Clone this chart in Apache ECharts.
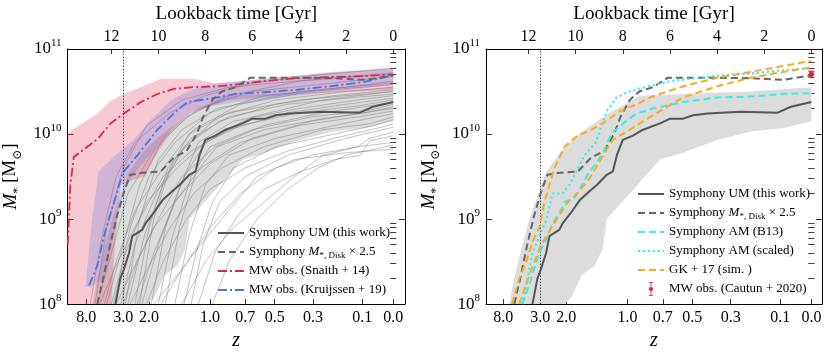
<!DOCTYPE html>
<html>
<head>
<meta charset="utf-8">
<script src="https://cdn.jsdelivr.net/npm/echarts@6/dist/echarts.min.js"></script>
<style>
html,body{margin:0;padding:0;background:#fff;}
#main{width:830px;height:356px;}
</style>
</head>
<body>
<div id="main"></div>
<script>
// all curves: [lookback time (Gyr), log10(M* / Msun)]
var umMedian = [[11.83,8.0],[11.62,8.3],[11.46,8.42],[11.25,8.6],[11.11,8.8],[10.68,8.875],[10.55,8.95],[10.13,9.1],[9.83,9.22],[9.4,9.33],[9.1,9.4],[8.68,9.52],[8.42,9.56],[8.25,9.75],[8.0,9.93],[7.57,9.98],[7.14,10.05],[6.42,10.125],[5.99,10.18],[5.44,10.18],[5.01,10.22],[4.41,10.24],[3.0,10.26],[1.43,10.25],[0.87,10.32],[0,10.375]];
var umBandUpper = [[12.81,8.0],[12.6,8.3],[12.3,8.65],[11.96,9.0],[11.24,9.56],[10.55,9.82],[9.62,10.05],[8.55,10.25],[7.27,10.45],[4.71,10.48],[2.58,10.5],[0,10.55]];
var umBandLower = [[10.47,8.0],[10.17,8.08],[9.74,8.34],[9.19,8.45],[8.85,8.65],[8.68,9.0],[7.7,9.3],[7.06,9.5],[6.42,9.7],[5.44,9.78],[3.99,9.93],[2.58,10.03],[1.17,10.07],[0,10.15]];
var diskX25 = [[12.6,8.0],[12.35,8.3],[12.05,8.7],[11.75,9.05],[11.45,9.33],[11.2,9.52],[10.75,9.54],[9.9,9.56],[9.35,9.72],[8.8,9.8],[8.35,10.01],[8.1,10.2],[7.7,10.4],[7.3,10.5],[6.72,10.55],[6.1,10.66],[4.0,10.66],[2.5,10.655],[1.2,10.636],[0,10.69]];
var snaithLine = [[13.86,8.7],[13.75,9.4],[13.6,9.73],[12.59,9.94],[12.03,10.125],[11.47,10.24],[10.75,10.375],[10.04,10.47],[9.35,10.53],[8.5,10.55],[7.48,10.56],[6.72,10.58],[5.39,10.625],[4.08,10.655],[2.68,10.67],[1.28,10.68],[0,10.70]];
var snaithUpper = [[13.86,10.0],[13.67,10.05],[12.59,10.24],[12.03,10.39],[11.47,10.47],[10.75,10.55],[9.9,10.65],[8.5,10.65],[7.65,10.6],[6.72,10.61],[3.97,10.69],[2.56,10.73],[0,10.76]];
var snaithLower = [[13.86,8.0],[12.0,8.0],[11.9,8.5],[11.75,9.0],[11.6,9.4],[11.2,9.45],[10.6,9.5],[10.0,9.8],[9.4,10.05],[8.6,10.25],[7.0,10.4],[4.0,10.47],[0,10.52]];
var kruijLine = [[12.95,8.22],[12.59,8.46],[12.32,8.8],[12.03,9.07],[11.74,9.33],[11.53,9.54],[10.89,9.75],[10.04,10.05],[9.35,10.24],[8.77,10.375],[7.92,10.41],[6.72,10.47],[5.53,10.49],[4.09,10.52],[2.69,10.56],[1.28,10.61],[0,10.69]];
var kruijUpper = [[13.1,8.2],[13.03,8.42],[12.82,9.0],[12.55,9.56],[11.83,9.75],[11.06,9.93],[10.34,10.16],[9.49,10.39],[8.77,10.5],[7.92,10.58],[6.94,10.61],[3.5,10.7],[0,10.78]];
var kruijLower = [[12.9,8.2],[12.34,8.3],[12.18,8.42],[11.91,8.8],[11.5,9.3],[11.0,9.55],[9.9,9.9],[9.35,10.09],[8.63,10.24],[7.92,10.32],[6.72,10.375],[2.69,10.49],[0,10.58]];
var amB13 = [[12.26,8.0],[11.96,8.23],[11.75,8.42],[11.54,8.6],[11.24,8.76],[10.98,8.95],[10.68,9.07],[10.47,9.2],[10.04,9.25],[9.49,9.52],[8.89,9.75],[8.46,10.01],[8.12,10.09],[7.83,10.16],[7.4,10.24],[6.72,10.3],[5.44,10.375],[4.0,10.43],[2.58,10.44],[1.17,10.47],[0,10.48]];
var amScaled = [[12.26,8.0],[12.09,8.23],[11.96,8.42],[11.83,8.6],[11.54,8.8],[11.24,8.99],[10.98,9.3],[10.55,9.3],[10.26,9.4],[10.04,9.52],[9.62,9.75],[9.15,9.9],[8.68,10.27],[8.25,10.43],[7.83,10.49],[7.14,10.545],[5.99,10.62],[4.0,10.685],[2.58,10.71],[1.17,10.75],[0,10.77]];
var gk17a = [[12.69,8.0],[12.39,8.3],[12.09,8.5],[11.83,8.73],[11.54,8.9],[11.32,9.2],[10.9,9.6],[10.47,9.85],[9.92,9.98],[9.4,10.04],[8.85,10.125],[8.12,10.27],[7.4,10.35],[6.84,10.43],[5.44,10.56],[4.0,10.66],[2.58,10.73],[1.17,10.8],[0,10.86]];
var gk17b = [[12.39,8.0],[11.96,8.34],[11.54,8.65],[11.24,8.8],[10.81,8.99],[10.38,9.18],[9.83,9.33],[9.4,9.48],[8.76,9.78],[8.42,9.93],[7.7,10.05],[6.84,10.2],[5.44,10.43],[4.0,10.56],[2.58,10.66],[1.17,10.73],[0,10.785]];
// Cautun+2020: lookback, mass and error in 1e10 Msun
var cautunT = [0];
var cautunMass = [5.04];
var cautunErr = [0.43];
// individual Symphony UM histories (thin grey lines, left panel)
var thinTracks = [
  [[12.9,8.0],[12.4,8.8],[11.8,9.5],[11.0,9.9],[9.5,10.25],[8.0,10.45],[6.0,10.6],[3.0,10.7],[0,10.77]],
  [[12.6,8.0],[12.0,8.6],[11.3,9.3],[10.2,9.8],[8.8,10.2],[7.0,10.45],[4.0,10.62],[0,10.72]],
  [[12.2,8.0],[11.5,8.7],[10.8,9.4],[9.8,9.95],[8.3,10.3],[6.0,10.5],[2.5,10.6],[0,10.68]],
  [[11.9,8.0],[11.2,8.9],[10.4,9.5],[9.3,9.9],[7.8,10.25],[5.5,10.45],[2.0,10.55],[0,10.62]],
  [[12.3,8.0],[11.8,8.5],[11.0,9.1],[9.8,9.6],[8.5,10.05],[6.5,10.35],[3.5,10.5],[0,10.58]],
  [[11.6,8.0],[11.0,8.7],[10.0,9.35],[9.0,9.8],[7.5,10.2],[5.0,10.4],[2.0,10.5],[0,10.55]],
  [[11.3,8.0],[10.6,8.8],[9.8,9.4],[8.9,9.85],[7.4,10.15],[5.0,10.35],[2.5,10.45],[0,10.52]],
  [[12.0,8.0],[11.4,8.6],[10.5,9.2],[9.2,9.6],[7.8,9.95],[6.0,10.2],[3.0,10.4],[0,10.5]],
  [[11.0,8.0],[10.4,8.9],[9.6,9.6],[8.6,9.95],[7.0,10.2],[4.5,10.35],[2.0,10.42],[0,10.47]],
  [[10.7,8.0],[10.0,8.7],[9.2,9.3],[8.3,9.9],[6.8,10.15],[4.0,10.3],[1.5,10.4],[0,10.45]],
  [[12.5,8.0],[11.9,8.4],[11.0,8.9],[9.8,9.5],[8.6,9.8],[7.0,10.05],[4.5,10.25],[2.0,10.35],[0,10.42]],
  [[10.3,8.0],[9.7,8.9],[8.9,9.5],[8.0,9.9],[6.5,10.1],[4.0,10.25],[1.5,10.33],[0,10.4]],
  [[11.5,8.0],[10.9,8.5],[10.0,9.0],[9.0,9.5],[7.6,9.85],[5.5,10.1],[3.0,10.25],[0,10.37]],
  [[10.0,8.0],[9.4,8.8],[8.6,9.5],[7.8,9.85],[6.0,10.05],[3.5,10.2],[1.0,10.28],[0,10.35]],
  [[11.8,8.0],[11.1,8.4],[10.2,8.9],[9.0,9.3],[7.8,9.65],[6.0,9.95],[3.5,10.15],[1.2,10.25],[0,10.32]],
  [[9.7,8.0],[9.1,8.9],[8.4,9.55],[7.5,9.85],[5.5,10.05],[3.0,10.18],[0,10.3]],
  [[10.9,8.0],[10.2,8.6],[9.3,9.2],[8.2,9.6],[6.5,9.9],[4.0,10.1],[1.5,10.2],[0,10.27]],
  [[9.3,8.0],[8.7,8.8],[8.0,9.4],[7.0,9.75],[5.0,9.95],[2.5,10.1],[0,10.24]],
  [[11.2,8.0],[10.5,8.4],[9.5,8.9],[8.5,9.3],[7.3,9.6],[5.5,9.85],[3.0,10.05],[1.0,10.12],[0,10.2]],
  [[8.9,8.0],[8.4,8.6],[7.7,9.2],[6.8,9.6],[5.0,9.85],[2.5,10.0],[0.8,10.1],[0,10.17]],
  [[10.5,8.0],[9.8,8.5],[8.8,9.0],[7.8,9.35],[6.3,9.6],[4.5,9.8],[2.5,9.95],[0.5,10.08],[0,10.12]],
  [[8.6,8.0],[8.1,8.7],[7.4,9.2],[6.3,9.5],[4.5,9.75],[2.0,9.95],[0,10.08]],
  [[9.9,8.0],[9.0,8.4],[7.8,8.9],[6.5,9.3],[5.0,9.6],[3.5,9.75],[1.5,9.85],[1.0,9.95],[0,10.02]],
  [[8.3,8.0],[7.6,8.6],[6.6,9.05],[5.5,9.35],[4.0,9.55],[2.5,9.7],[1.4,9.75],[1.0,9.92],[0,9.98]],
  [[9.0,8.0],[8.0,8.5],[6.8,8.9],[5.5,9.2],[4.2,9.5],[3.0,9.75],[1.5,9.85],[0,9.9]],
  [[7.7,8.0],[7.0,8.5],[5.8,9.0],[4.5,9.35],[3.2,9.6],[2.0,9.75],[0,9.87]],
  [[10.2,8.0],[9.3,8.3],[8.2,8.7],[7.0,9.1],[5.8,9.5],[4.2,9.7],[2.0,9.78],[0,9.82]],
  [[12.7,8.0],[12.2,8.9],[11.5,9.6],[10.5,10.1],[9.0,10.4],[7.0,10.55],[3.0,10.65],[0,10.7]],
  [[11.4,8.0],[10.8,9.0],[10.0,9.7],[9.0,10.05],[7.5,10.3],[4.0,10.5],[0,10.6]],
  [[10.8,8.0],[10.2,9.0],[9.5,9.6],[8.7,10.0],[7.0,10.25],[4.0,10.4],[0,10.5]]
];
// axis ticks
var topTicks = [0, 2, 4, 6, 8, 10, 12];
var zTickPos = [13.07, 11.5, 10.4, 7.8, 6.3, 5.05, 3.42, 1.32, 0];
var zTickLabels = ['8.0', '3.0', '2.0', '1.0', '0.7', '0.5', '0.3', '0.1', '0.0'];
var zThree = 11.5;

var FONT = "'Liberation Serif', 'DejaVu Serif', serif";
var chart = echarts.init(document.getElementById('main'), null, {renderer: 'canvas'});

function toXY(arr) {
  return arr.map(function (p) { return [p[0], Math.pow(10, p[1])]; });
}

// log-space positions of 2..9 x 10^n minor ticks
var minorLog = [];
for (var e = 8; e < 11; e++) {
  for (var k = 2; k <= 9; k++) minorLog.push(Math.log10(k) + e);
}

var NAMES = {
  um: 'Symphony UM (this work)',
  disk: 'Symphony Mdisk',
  snaith: 'MW obs. (Snaith + 14)',
  kruij: 'MW obs. (Kruijssen + 19)',
  b13: 'Symphony AM (B13)',
  scaled: 'Symphony AM (scaled)',
  gk: 'GK + 17 (sim. )',
  cautun: 'MW obs. (Cautun + 2020)'
};

var tickStyle = {color: '#000', width: 0.8};
var lineAxis = {show: true, onZero: false, lineStyle: {color: '#000', width: 1}};

function xAxesFor(grid, tmin, tmax) {
  return [{
    type: 'value', gridIndex: grid, position: 'bottom', min: tmin, max: tmax, inverse: true,
    axisLine: lineAxis,
    axisTick: {show: true, inside: true, length: 5, customValues: zTickPos, lineStyle: tickStyle},
    axisLabel: {
      customValues: zTickPos, margin: 6, fontSize: 16, fontFamily: FONT, color: '#000',
      formatter: function (v) {
        for (var i = 0; i < zTickPos.length; i++) {
          if (Math.abs(zTickPos[i] - v) < 1e-6) return zTickLabels[i];
        }
        return '';
      }
    },
    splitLine: {show: false},
    name: 'z', nameLocation: 'middle', nameGap: 24,
    nameTextStyle: {fontFamily: FONT, fontSize: 20, fontStyle: 'italic', color: '#000'}
  }, {
    type: 'value', gridIndex: grid, position: 'top', min: tmin, max: tmax, inverse: true,
    axisLine: lineAxis,
    axisTick: {show: true, inside: true, length: 5, customValues: topTicks, lineStyle: tickStyle},
    axisLabel: {customValues: topTicks, margin: 4, fontSize: 16, fontFamily: FONT, color: '#000'},
    splitLine: {show: false},
    name: 'Lookback time [Gyr]', nameLocation: 'middle', nameGap: 22,
    nameTextStyle: {fontFamily: FONT, fontSize: 19, color: '#000'}
  }];
}

function yAxesFor(grid) {
  var main = {
    type: 'log', logBase: 10, gridIndex: grid, position: 'left', min: 1e8, max: 1e11,
    axisLine: lineAxis,
    axisTick: {show: true, inside: true, length: 6, lineStyle: tickStyle},
    axisLabel: {
      margin: 6, padding: [0, 0, 3, 0],
      formatter: function (v) { return '{b|10}{s|' + Math.round(Math.log10(v)) + '}'; },
      rich: {
        b: {fontSize: 17, fontFamily: FONT, color: '#000', lineHeight: 20, verticalAlign: 'bottom'},
        s: {fontSize: 11, fontFamily: FONT, color: '#000', lineHeight: 20, verticalAlign: 'top'}
      }
    },
    splitLine: {show: false},
    name: '{i|M}{sb|*} [M{sb|\u2299}]', nameLocation: 'middle', nameGap: 44, nameRotate: 90,
    nameTextStyle: {
      fontFamily: FONT, fontSize: 19, color: '#000',
      rich: {
        i: {fontFamily: FONT, fontSize: 19, fontStyle: 'italic', color: '#000', lineHeight: 26},
        sb: {fontFamily: FONT, fontSize: 12, color: '#000', verticalAlign: 'bottom', lineHeight: 14}
      }
    }
  };
  var rightMain = {
    type: 'log', logBase: 10, gridIndex: grid, position: 'right', min: 1e8, max: 1e11,
    axisLine: lineAxis,
    axisTick: {show: true, inside: true, length: 6, lineStyle: tickStyle},
    axisLabel: {show: false}, splitLine: {show: false}
  };
  function minor(side) {
    return {
      type: 'value', gridIndex: grid, position: side, min: 8, max: 11,
      axisLine: {show: false},
      axisTick: {show: true, inside: true, length: 3, customValues: minorLog, lineStyle: tickStyle},
      axisLabel: {show: false}, splitLine: {show: false}
    };
  }
  return [main, rightMain, minor('left'), minor('right')];
}

function bandSeries(upper, lower, fill, xi, yi, z) {
  return {
    type: 'custom', xAxisIndex: xi, yAxisIndex: yi, silent: true, z: z,
    data: [[5, 1e9]], encode: {x: 0, y: 1},
    renderItem: function (params, api) {
      var pts = [];
      upper.forEach(function (p) { pts.push(api.coord([p[0], Math.pow(10, p[1])])); });
      lower.slice().reverse().forEach(function (p) { pts.push(api.coord([p[0], Math.pow(10, p[1])])); });
      return {type: 'polygon', shape: {points: pts}, style: {fill: fill}};
    }
  };
}

function line(name, data, xi, yi, color, width, type, z) {
  return {
    type: 'line', name: name, data: toXY(data), xAxisIndex: xi, yAxisIndex: yi,
    symbol: 'none', showSymbol: false, silent: true, z: z || 3,
    itemStyle: {color: color},
    lineStyle: {color: color, width: width, type: type}
  };
}

var dashDot = [9, 3, 2, 3];
var dash = [7, 4];
var zLine = {
  silent: true, symbol: ['none', 'none'], label: {show: false},
  lineStyle: {type: [1.5, 1.5], color: '#222', width: 0.8},
  data: [{xAxis: zThree}]
};

var series = [];
// left panel
series.push(bandSeries(umBandUpper, umBandLower, '#dcdcdc', 0, 0, 1));
thinTracks.forEach(function (tr) {
  series.push({
    type: 'line', data: toXY(tr), xAxisIndex: 0, yAxisIndex: 0, symbol: 'none', silent: true, z: 2,
    lineStyle: {color: 'rgba(120,120,120,0.5)', width: 0.9}
  });
});
series.push(bandSeries(snaithUpper, snaithLower, 'rgba(230,40,80,0.25)', 0, 0, 3));
series.push(bandSeries(kruijUpper, kruijLower, 'rgba(65,105,225,0.22)', 0, 0, 3));
series.push(line(NAMES.snaith, snaithLine, 0, 0, '#e0254f', 1.8, dashDot, 4));
series.push(line(NAMES.kruij, kruijLine, 0, 0, '#4a74e0', 1.8, dashDot, 4));
series.push(line(NAMES.disk, diskX25, 0, 0, '#666666', 2, dash, 5));
var umLeft = line(NAMES.um, umMedian, 0, 0, '#555555', 2, 'solid', 5);
umLeft.markLine = zLine;
series.push(umLeft);

// right panel
series.push(bandSeries(umBandUpper, umBandLower, '#dcdcdc', 2, 4, 1));
var umRight = line(NAMES.um, umMedian, 2, 4, '#555555', 2, 'solid', 5);
umRight.markLine = zLine;
series.push(umRight);
series.push(line(NAMES.disk, diskX25, 2, 4, '#666666', 2, dash, 5));
series.push(line(NAMES.b13, amB13, 2, 4, '#2ef0f0', 2, dash, 5));
series.push(line(NAMES.scaled, amScaled, 2, 4, '#2ef0f0', 2.2, [2, 3], 5));
series.push(line(NAMES.gk, gk17a, 2, 4, '#ffa81e', 2, dash, 5));
series.push(line('gk17b', gk17b, 2, 4, '#ffa81e', 2, dash, 5));
series.push({
  type: 'custom', name: NAMES.cautun, xAxisIndex: 2, yAxisIndex: 4, silent: true, z: 6,
  itemStyle: {color: '#dc1e46'},
  data: cautunT.map(function (t, i) {
    return [t, cautunMass[i] * 1e10, (cautunMass[i] - cautunErr[i]) * 1e10, (cautunMass[i] + cautunErr[i]) * 1e10];
  }),
  encode: {x: 0, y: 1},
  renderItem: function (params, api) {
    var p = api.coord([api.value(0), api.value(1)]);
    var lo = api.coord([api.value(0), api.value(2)]);
    var hi = api.coord([api.value(0), api.value(3)]);
    var c = '#dc1e46', st = {stroke: c, lineWidth: 1.2};
    return {type: 'group', children: [
      {type: 'line', shape: {x1: p[0], y1: lo[1], x2: p[0], y2: hi[1]}, style: st},
      {type: 'line', shape: {x1: p[0] - 3, y1: lo[1], x2: p[0] + 3, y2: lo[1]}, style: st},
      {type: 'line', shape: {x1: p[0] - 3, y1: hi[1], x2: p[0] + 3, y2: hi[1]}, style: st},
      {type: 'circle', shape: {cx: p[0], cy: p[1], r: 2.6}, style: {fill: c}}
    ]};
  }
});

var legendRich = {
  i: {fontFamily: FONT, fontSize: 13, fontStyle: 'italic', color: '#000', lineHeight: 16},
  sb: {fontFamily: FONT, fontSize: 9, color: '#000', verticalAlign: 'bottom', lineHeight: 12}
};
function legendFmt(name) {
  if (name === NAMES.disk) return 'Symphony {i|M}{sb|*, Disk} \u00d7 2.5';
  return name;
}
var errIcon = 'path://M3,0H9V1.2H3Z M5.4,0H6.6V20H5.4Z M3,18.8H9V20H3Z M6,7A3,3,0,1,1,5.99,7Z';

function legendFor(left, top, names) {
  return {
    left: left, top: top, orient: 'vertical', itemWidth: 26, itemHeight: 14, itemGap: 3,
    selectedMode: false, data: names, formatter: legendFmt,
    itemStyle: {opacity: 0},
    textStyle: {fontFamily: FONT, fontSize: 13, color: '#000', lineHeight: 16, rich: legendRich}
  };
}

var option = {
  animation: false,
  backgroundColor: '#fff',
  grid: [
    {left: 67, top: 43, width: 338, height: 264},
    {left: 486, top: 43, width: 336, height: 264}
  ],
  xAxis: xAxesFor(0, -0.5, 13.87).concat(xAxesFor(1, -0.45, 13.8)),
  yAxis: yAxesFor(0).concat(yAxesFor(1)),
  legend: [
    legendFor(212, 220, [NAMES.um, NAMES.disk, NAMES.snaith, NAMES.kruij]),
    legendFor(632, 181, [NAMES.um, NAMES.disk, NAMES.b13, NAMES.scaled, NAMES.gk,
      {name: NAMES.cautun, icon: errIcon, itemStyle: {opacity: 1}}])
  ],
  series: series
};
chart.setOption(option);
</script>
</body>
</html>
